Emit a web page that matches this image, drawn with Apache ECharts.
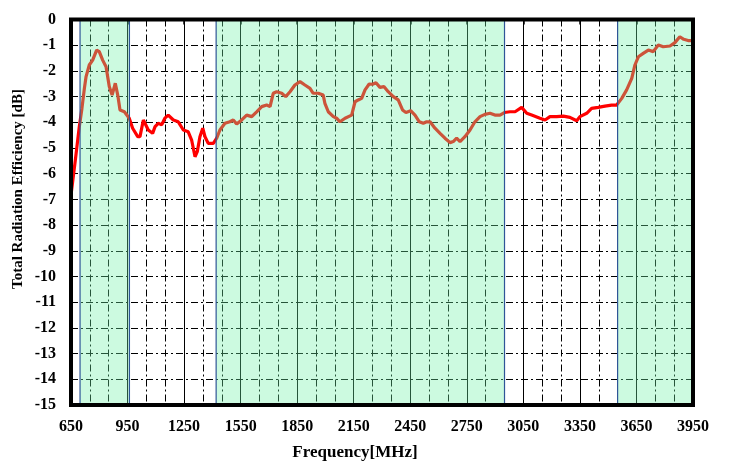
<!DOCTYPE html>
<html>
<head>
<meta charset="utf-8">
<script src="https://cdn.jsdelivr.net/npm/echarts@6/dist/echarts.min.js"></script>
<style>
html,body{margin:0;padding:0;background:#fff;}
#chart{width:744px;height:470px;}
</style>
</head>
<body>
<div id="chart"></div>
<script>
const freqMHz = [650,673,694,708,721,730,747,765,786,800,818,836,853,868,885,898,910,933,959,977,1004,1016,1034,1060,1083,1096,1113,1131,1148,1166,1193,1219,1246,1272,1290,1308,1320,1334,1349,1361,1378,1405,1423,1440,1467,1493,1511,1529,1556,1582,1609,1635,1662,1688,1706,1723,1741,1768,1789,1812,1838,1865,1891,1918,1935,1962,1988,1997,2015,2042,2059,2077,2104,2139,2157,2174,2192,2210,2232,2250,2268,2289,2310,2333,2360,2386,2409,2427,2452,2475,2498,2519,2537,2555,2581,2608,2634,2661,2678,2696,2714,2740,2767,2793,2820,2846,2873,2899,2926,2949,2979,3006,3041,3068,3094,3138,3165,3191,3227,3262,3297,3333,3350,3386,3412,3447,3483,3518,3545,3572,3598,3625,3642,3660,3686,3713,3739,3766,3792,3828,3854,3880,3901,3924,3950];
const efficiencyDb = [-6.83,-5.47,-4.17,-3.46,-2.68,-2.22,-1.77,-1.58,-1.19,-1.25,-1.58,-1.84,-2.61,-2.94,-2.48,-2.94,-3.52,-3.59,-3.84,-4.23,-4.56,-4.56,-3.91,-4.30,-4.43,-4.17,-4.04,-4.10,-3.84,-3.72,-3.91,-3.98,-4.30,-4.37,-4.69,-5.34,-5.14,-4.56,-4.23,-4.56,-4.82,-4.82,-4.62,-4.30,-4.04,-3.98,-3.91,-4.07,-3.91,-3.72,-3.78,-3.59,-3.39,-3.33,-3.39,-2.87,-2.81,-2.87,-3.00,-2.81,-2.55,-2.42,-2.55,-2.68,-2.87,-2.87,-2.94,-3.26,-3.59,-3.78,-3.84,-3.98,-3.84,-3.72,-3.20,-3.13,-3.07,-2.74,-2.51,-2.52,-2.46,-2.64,-2.61,-2.81,-3.00,-3.13,-3.52,-3.62,-3.55,-3.72,-3.98,-4.04,-3.98,-3.98,-4.23,-4.43,-4.62,-4.79,-4.75,-4.62,-4.75,-4.56,-4.30,-3.98,-3.78,-3.69,-3.65,-3.72,-3.72,-3.62,-3.59,-3.59,-3.42,-3.65,-3.72,-3.84,-3.91,-3.78,-3.78,-3.76,-3.81,-3.94,-3.78,-3.65,-3.46,-3.42,-3.37,-3.33,-3.33,-3.07,-2.74,-2.29,-1.77,-1.45,-1.32,-1.19,-1.25,-0.99,-1.06,-1.03,-0.90,-0.67,-0.77,-0.82,-0.82];
const xTickValues = [650,950,1250,1550,1850,2150,2450,2750,3050,3350,3650,3950];
const xMinorGrid = [750,850,1050,1150,1350,1450,1650,1750,1950,2050,2250,2350,2550,2650,2850,2950,3150,3250,3450,3550,3750,3850];
const bandStart = [698,1420,3550];
const bandEnd = [960,2950,3950];
const yMin = -15, yMax = 0, yStep = 1;
const xMin = 650, xMax = 3950;

const font = 'Liberation Serif';
const dashDot = [7,3,2,3];

const chart = echarts.init(document.getElementById('chart'), null, {renderer:'canvas'});
chart.setOption({
  animation:false,
  backgroundColor:'#fff',
  grid:{left:71,right:51,top:19.5,bottom:65,show:true,z:10,borderColor:'#000',borderWidth:4,backgroundColor:'transparent'},
  xAxis:[{
    type:'value',min:xMin,max:xMax,
    axisLine:{show:false},
    axisTick:{show:true,customValues:xTickValues,length:5,lineStyle:{color:'#000',width:1.5}},
    axisLabel:{customValues:xTickValues,margin:14,color:'#000',fontFamily:font,fontWeight:'bold',fontSize:16,formatter:v=>String(v)},
    splitLine:{show:true,lineStyle:{color:'#000',width:1,type:'solid'}}
  },{
    type:'value',min:xMin,max:xMax,position:'bottom',
    axisLine:{show:false},
    axisTick:{show:false,customValues:xMinorGrid},
    axisLabel:{show:false,customValues:xMinorGrid},
    splitLine:{show:true,lineStyle:{color:'#000',width:1,type:dashDot}}
  }],
  yAxis:{
    type:'value',min:yMin,max:yMax,interval:yStep,
    axisLine:{show:false},axisTick:{show:false},
    axisLabel:{margin:15,color:'#000',fontFamily:font,fontWeight:'bold',fontSize:16,formatter:v=>String(v)},
    splitLine:{show:true,lineStyle:{color:'#000',width:1,type:dashDot}}
  },
  graphic:[
    {type:'text',x:18.5,y:189,rotation:Math.PI/2,style:{text:'Total Radiation Efficiency [dB]',align:'center',verticalAlign:'middle',fill:'#000',font:'bold 15px "Liberation Serif"'}},
    {type:'text',x:355,y:453,style:{text:'Frequency[MHz]',align:'center',verticalAlign:'middle',fill:'#000',font:'bold 17px "Liberation Serif"'}}
  ],
  series:[{
    type:'line',xAxisIndex:0,z:2,
    data:freqMHz.map((f,i)=>[f,efficiencyDb[i]]),
    showSymbol:false,symbol:'none',
    lineStyle:{color:'#ff0000',width:3.2},
    clip:true
  },{
    type:'line',xAxisIndex:0,z:5,data:[],
    markArea:{silent:true,z:6,
      itemStyle:{color:'rgba(110,241,167,0.35)',borderColor:'#2f5597',borderWidth:1.2},
      data:bandStart.map((s,i)=>[{xAxis:s,yAxis:yMin},{xAxis:bandEnd[i],yAxis:yMax}])
    }
  }]
});
</script>
</body>
</html>
